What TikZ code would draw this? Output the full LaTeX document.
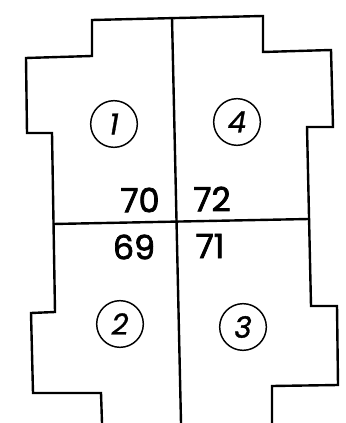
\documentclass[tikz,border=0pt]{standalone}
\usepackage{fontspec}
\setsansfont{Poppins}
\newfontfamily\numfont{Poppins}[FakeBold=2.2]
\newfontfamily\lotfont{Poppins}[FakeBold=1]
\usetikzlibrary{positioning}

\begin{document}
\begin{tikzpicture}[x=0.75pt, y=-0.75pt,
    wall/.style={draw, line width=1.8pt, line join=miter},
    lot/.style={circle, draw, line width=1.1pt, minimum size=35pt, inner sep=0pt, font=\lotfont\itshape\fontsize{22}{22}\selectfont},
    num/.style={inner sep=0pt, font=\numfont\fontsize{25}{25}\selectfont}]

    \useasboundingbox (0,0) rectangle (345,423);

    % Outline
    \draw [wall] (102,423) -- (101,393) -- (33,393) -- (31,313) -- (55,312) -- (52,133)
        -- (27,133) -- (26,58) -- (92,56) -- (92,20) -- (263,16) -- (263,52) -- (331,50)
        -- (333,127) -- (307,127) -- (311,306) -- (337,306) -- (338,385) -- (272,386) -- (272,423);

    % Dividers
    \coordinate (ctop) at (172,18);
    \coordinate (cbot) at (181,423);
    \coordinate (mleft) at (53,224);
    \coordinate (mright) at (309,219);
    \draw [wall] (ctop) -- (cbot);
    \draw [wall] (mleft) -- (mright);

    % Lots
    \node [lot] (lot1) at (114,124) {1};
    \node [lot] (lot4) at (237,122) {4};
    \node [lot] (lot2) at (120,324) {2};
    \node [lot] (lot3) at (243,327) {3};

    % Numbers
    \node [num] (n70) at (140,200) {70};
    \node [num] (n72) at (212,199) {72};
    \node [num] (n69) at (134,247) {69};
    \node [num] (n71) at (210,246) {71};
  \end{tikzpicture}
\end{document}
